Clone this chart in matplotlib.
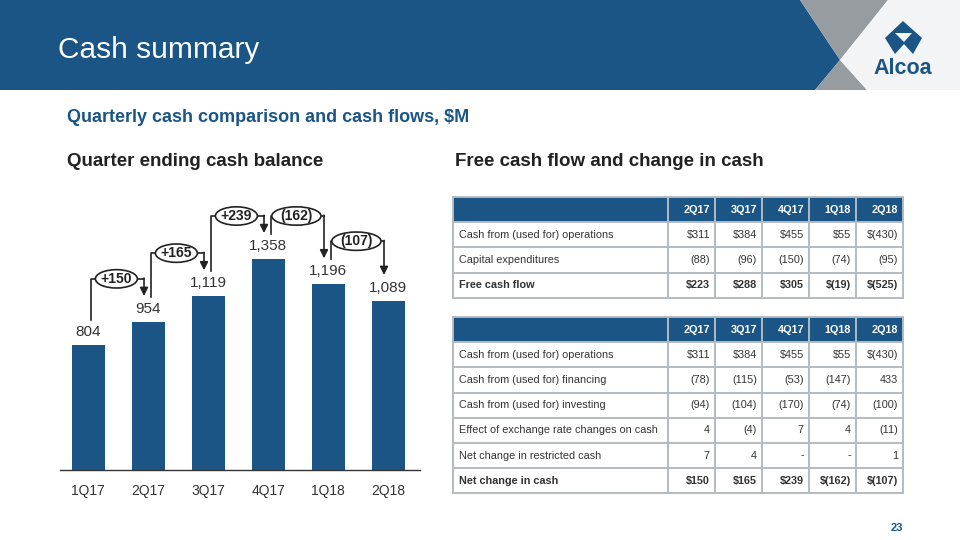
import matplotlib
matplotlib.use('Agg')
import matplotlib.pyplot as plt
from matplotlib.patches import Ellipse, Polygon, Rectangle

plt.rcParams['font.family'] = ['Liberation Sans', 'DejaVu Sans']

BLUE = '#1a5586'
GREY_TXT = '#333333'

# ---- data ----
quarters = ['1Q17', '2Q17', '3Q17', '4Q17', '1Q18', '2Q18']
cash_balance = [804, 954, 1119, 1358, 1196, 1089]
balance_labels = ['804', '954', '1,119', '1,358', '1,196', '1,089']
change_labels = ['+150', '+165', '+239', '(162)', '(107)']

table_cols = ['2Q17', '3Q17', '4Q17', '1Q18', '2Q18']
fcf_rows = ['Cash from (used for) operations', 'Capital expenditures',
            'Free cash flow']
fcf_values = [['$311', '$384', '$455', '$55', '$(430)'],
              ['(88)', '(96)', '(150)', '(74)', '(95)'],
              ['$223', '$288', '$305', '$(19)', '$(525)']]
cash_rows = ['Cash from (used for) operations',
             'Cash from (used for) financing',
             'Cash from (used for) investing',
             'Effect of exchange rate changes on cash',
             'Net change in restricted cash',
             'Net change in cash']
cash_values = [['$311', '$384', '$455', '$55', '$(430)'],
               ['(78)', '(115)', '(53)', '(147)', '433'],
               ['(94)', '(104)', '(170)', '(74)', '(100)'],
               ['4', '(4)', '7', '4', '(11)'],
               ['7', '4', '-', '-', '1'],
               ['$150', '$165', '$239', '$(162)', '$(107)']]

fig = plt.figure(figsize=(9.6, 5.4), dpi=100)

# full-page overlay in pixel coordinates
page = fig.add_axes([0, 0, 1, 1])
page.set_xlim(0, 960)
page.set_ylim(540, 0)
page.axis('off')

# header band
page.add_patch(Polygon([(0, 0), (800, 0), (840, 60), (815, 90), (0, 90)],
                       closed=True, color=BLUE, lw=0))
page.add_patch(Polygon([(800, 0), (888, 0), (840, 60)], closed=True,
                       color='#979ca1', lw=0))
page.add_patch(Polygon([(840, 60), (867, 90), (815, 90)], closed=True,
                       color='#979ca1', lw=0))
page.add_patch(Polygon([(888, 0), (960, 0), (960, 90), (867, 90), (840, 60)],
                       closed=True, color='#f2f4f6', lw=0))
page.text(58, 50, 'Cash summary', color='white', fontsize=21.5,
          va='center', ha='left')

# logo
page.add_patch(Polygon([(903, 21), (922, 38), (913, 54), (904, 44),
                        (895, 54), (885, 38)], closed=True, color=BLUE, lw=0))
page.add_patch(Polygon([(895, 33), (912, 33), (904, 42)], closed=True,
                       color='#f2f4f6', lw=0))
page.text(903, 69, 'Alcoa', color=BLUE, fontsize=15.5, fontweight='bold',
          ha='center', va='center')

page.text(67, 118, 'Quarterly cash comparison and cash flows, $M', color=BLUE,
          fontsize=13, fontweight='bold', va='center')
page.text(67, 162, 'Quarter ending cash balance', color='#222222',
          fontsize=13.5, fontweight='bold', va='center')
page.text(455, 162, 'Free cash flow and change in cash', color='#222222',
          fontsize=13.5, fontweight='bold', va='center')
page.text(897, 528, '23', color=BLUE, fontsize=8, fontweight='bold',
          ha='center', va='center')


def draw_table(top, row_names, values):
    edges = [453, 668, 715, 762, 809, 856, 903]
    rh = 25.2
    n = len(row_names) + 1
    page.add_patch(Rectangle((edges[0], top), edges[-1] - edges[0], rh,
                             color=BLUE, lw=0))
    for j, c in enumerate(table_cols):
        page.text(edges[j + 2] - 5, top + rh / 2, c, color='white',
                  fontsize=7.8, fontweight='bold', ha='right', va='center')
    for i, name in enumerate(row_names):
        yc = top + rh * (i + 1.5)
        w = 'bold' if i == len(row_names) - 1 else 'normal'
        page.text(edges[0] + 6, yc, name, color=GREY_TXT, fontsize=7.8,
                  fontweight=w, va='center')
        for j, v in enumerate(values[i]):
            page.text(edges[j + 2] - 5, yc, v, color=GREY_TXT, fontsize=7.8,
                      fontweight=w, ha='right', va='center')
    for i in range(n + 1):
        page.plot([edges[0], edges[-1]], [top + rh * i] * 2,
                  color='#b3bbc3', lw=1.4)
    for x in edges:
        page.plot([x, x], [top, top + rh * n], color='#b3bbc3', lw=1.4)


draw_table(197, fcf_rows, fcf_values)
draw_table(317, cash_rows, cash_values)

# ---- bar chart ----
ax = fig.add_axes([60 / 960, 70 / 540, 360 / 960, 275 / 540])
x = list(range(len(quarters)))
ax.bar(x, cash_balance, width=0.55, color=BLUE)
ax.set_xlim(-0.47, 5.53)
ax.set_ylim(0, 1768)
for s in ['top', 'right', 'left']:
    ax.spines[s].set_visible(False)
ax.spines['bottom'].set_color('#333333')
ax.spines['bottom'].set_linewidth(1.0)
ax.set_yticks([])
ax.set_xticks(x)
ax.set_xticklabels(quarters, fontsize=10, color=GREY_TXT)
ax.tick_params(axis='x', length=0, pad=10)

for xi, v, lab in zip(x, cash_balance, balance_labels):
    ax.annotate(lab, (xi, v), xytext=(0, 4), textcoords='offset points',
                ha='center', va='bottom', fontsize=11, color=GREY_TXT)

for i, lab in enumerate(change_labels):
    v0, v1 = cash_balance[i], cash_balance[i + 1]
    top = max(v0, v1) + 275
    x0 = i + 0.05
    x1 = i + 1 - 0.07
    ax.plot([x0, x0, x1], [v0 + 160, top, top], color='#222222', lw=1.2)
    ax.annotate('', xy=(x1, v1 + 165), xytext=(x1, top + 5),
                arrowprops=dict(arrowstyle='-|>', color='#222222', lw=1.2,
                                mutation_scale=12, shrinkA=0, shrinkB=0))
    xm = i + 0.47
    ew = 0.7 if lab.startswith('+') else 0.82
    ax.add_patch(Ellipse((xm, top), ew, 118, facecolor='white',
                         edgecolor='#222222', lw=1.2, zorder=3))
    ax.text(xm, top, lab, ha='center', va='center', fontsize=10,
            fontweight='bold', color='#222222', zorder=4)

fig.savefig('out.png', dpi=100)
